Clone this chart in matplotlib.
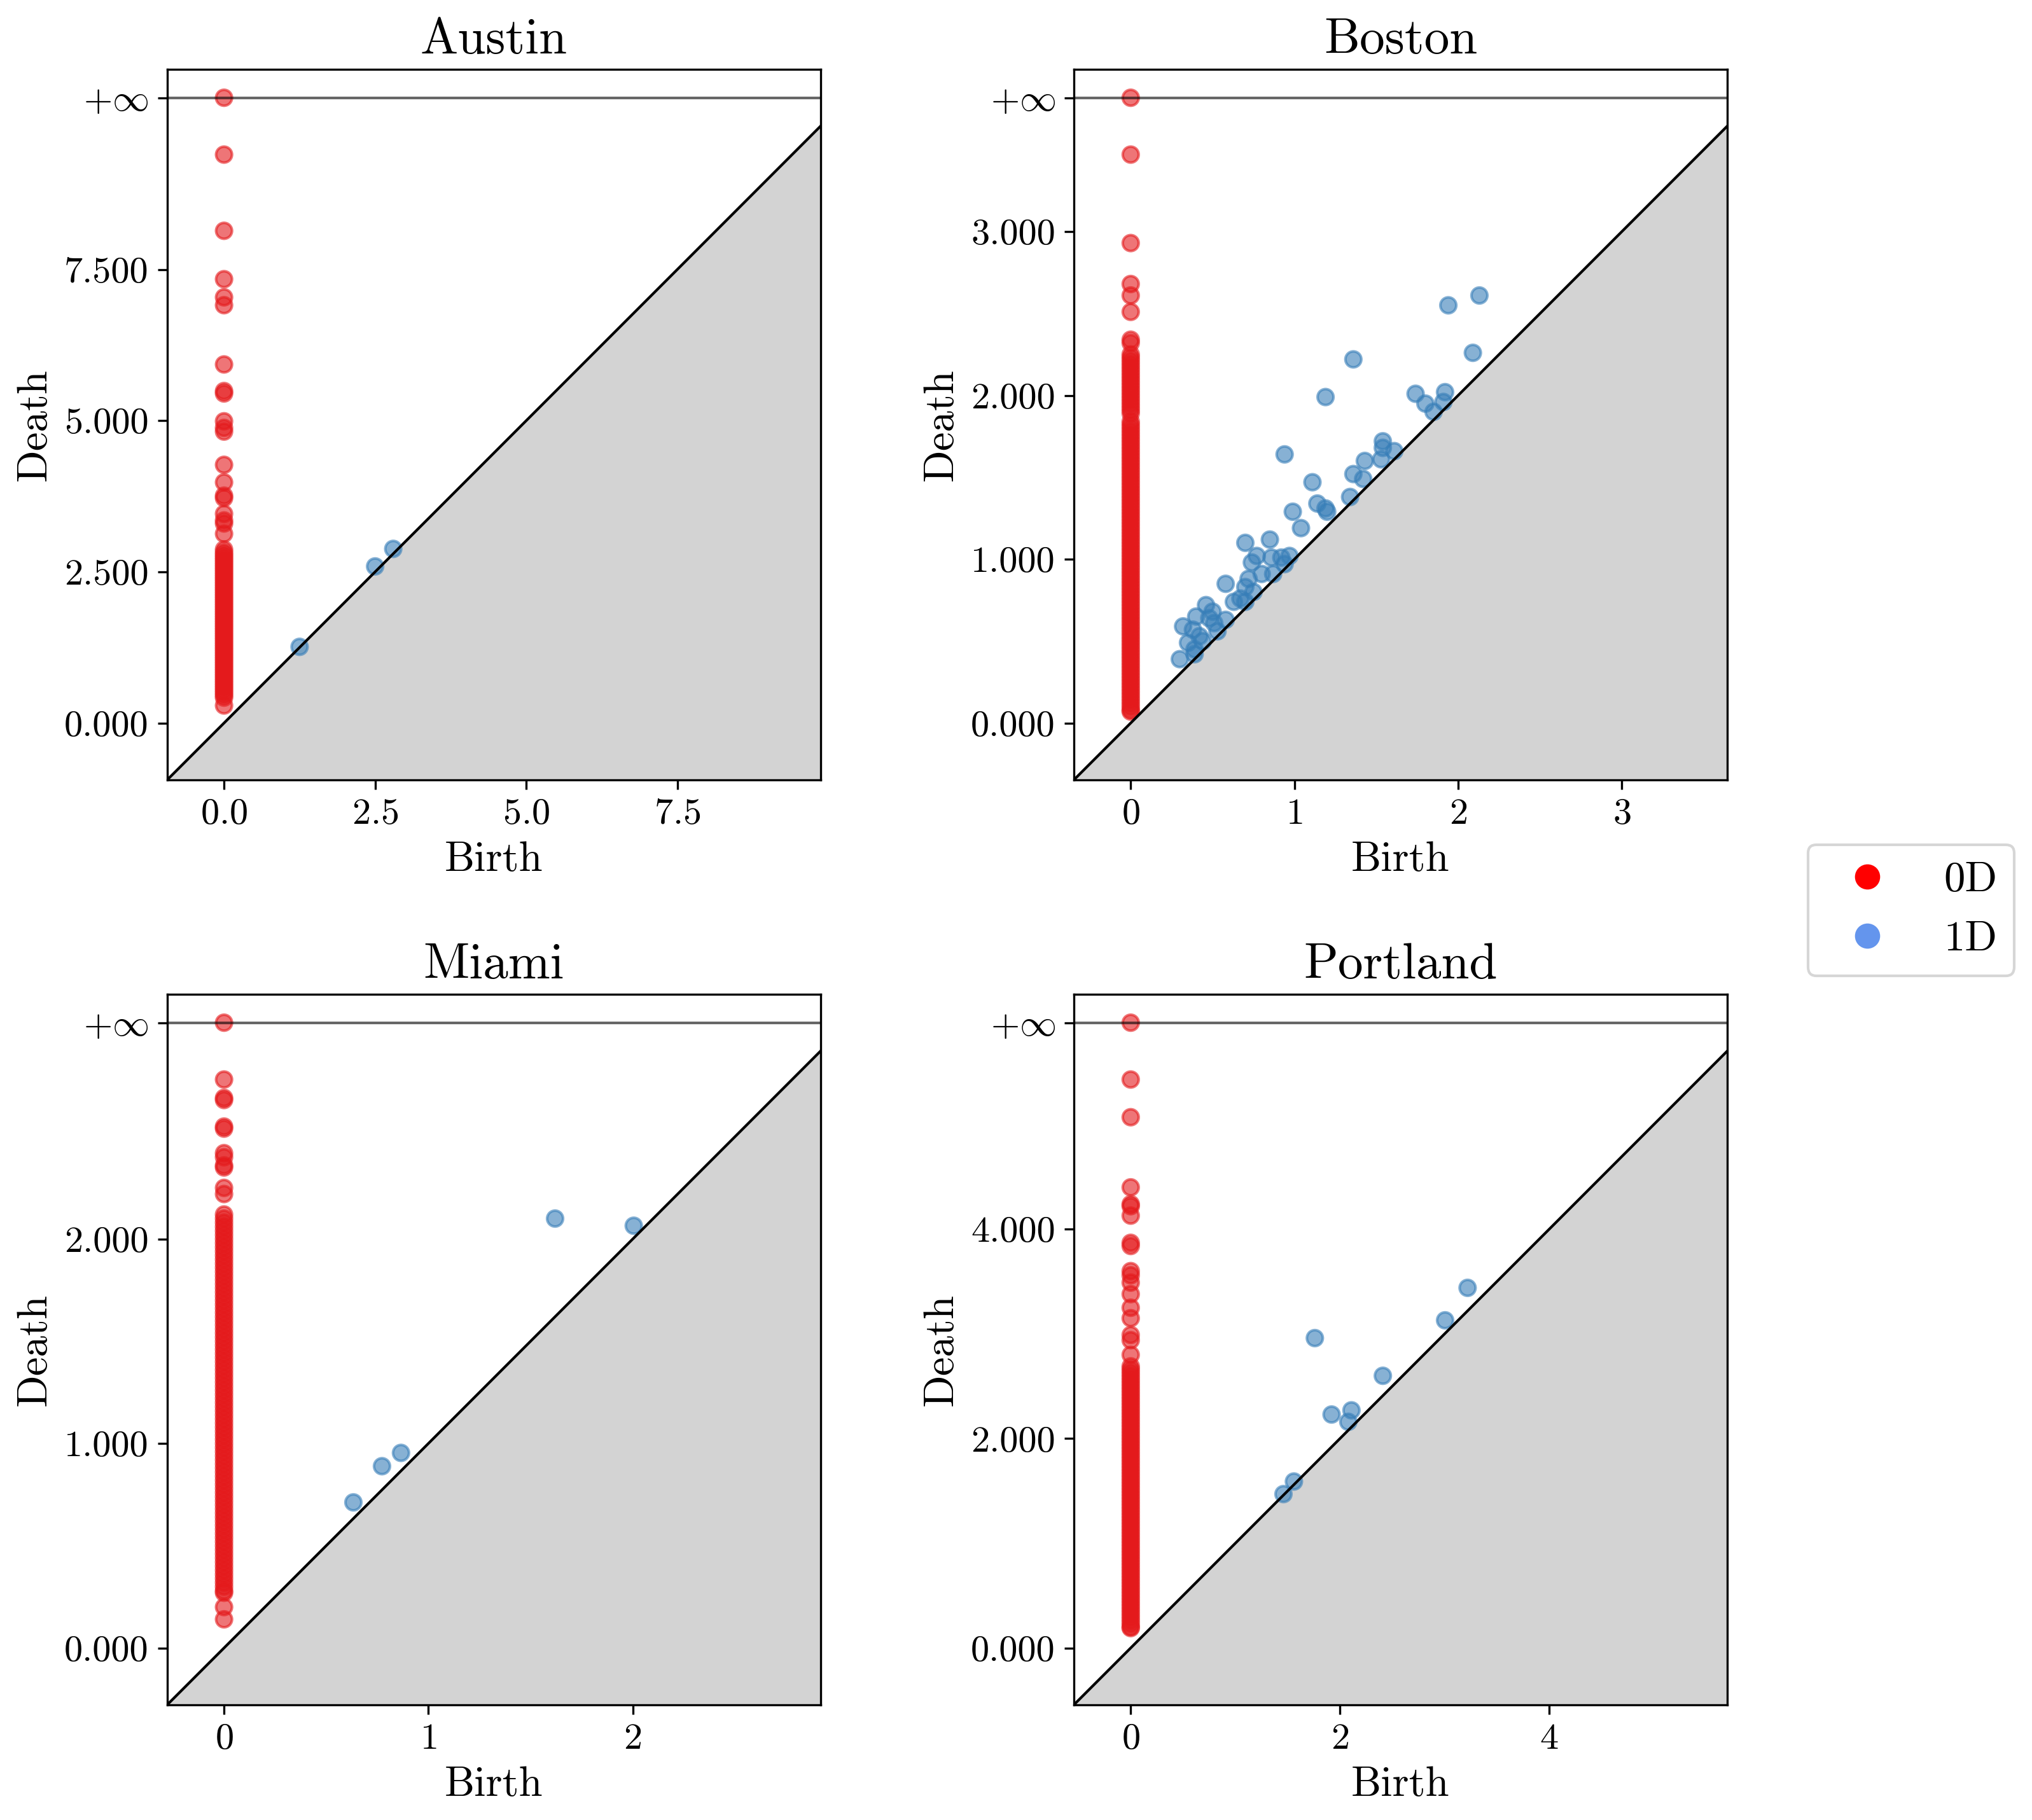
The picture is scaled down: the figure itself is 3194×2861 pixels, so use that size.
import numpy as np
import matplotlib
matplotlib.use("Agg")
import matplotlib.pyplot as plt
import matplotlib.patches as mpatches
from matplotlib.lines import Line2D

plt.rcParams['font.family'] = 'serif'
plt.rcParams['font.serif'] = ['cmr10']
plt.rcParams['mathtext.fontset'] = 'cm'
plt.rcParams['axes.formatter.use_mathtext'] = True
plt.rcParams['axes.unicode_minus'] = False

cities = ['Austin', 'Boston', 'Miami', 'Portland']

# 0D deaths (all births are 0), one extra infinite class per city
austin_h0 = [9.40, 8.14, 7.34, 7.04, 6.91, 5.93, 5.49, 5.45, 4.99, 4.88, 4.82, 4.27,
             3.98, 3.76, 3.72, 3.46, 3.35, 3.30, 3.13, 2.87,
             2.82, 2.78, 2.74, 2.70, 2.66, 2.62, 2.58, 2.54, 2.50, 2.46, 2.42, 2.38,
             2.34, 2.30, 2.26, 2.22, 2.18, 2.14, 2.10, 2.06, 2.02, 1.98, 1.94, 1.90,
             1.86, 1.82, 1.78, 1.74, 1.70, 1.66, 1.62, 1.58, 1.54, 1.50, 1.46, 1.42,
             1.38, 1.34, 1.30, 1.26, 1.22, 1.18, 1.14, 1.10, 1.06, 1.02, 0.98, 0.94,
             0.90, 0.86, 0.82, 0.78, 0.74, 0.70, 0.66, 0.62, 0.58, 0.54, 0.50, 0.46,
             0.42, 0.29]
boston_h0 = [3.47, 2.93, 2.68, 2.61, 2.51, 2.34, 2.32,
             2.25, 2.23, 2.21, 2.19, 2.17, 2.15, 2.13, 2.11, 2.09, 2.07, 2.05, 2.03,
             2.01, 1.99, 1.97, 1.95, 1.93, 1.91, 1.89,
             1.84, 1.82, 1.80, 1.78, 1.76, 1.74, 1.72, 1.70, 1.68, 1.66, 1.64, 1.62,
             1.60, 1.58, 1.56, 1.54, 1.52, 1.50, 1.48, 1.46, 1.44, 1.42, 1.40, 1.38,
             1.36, 1.34, 1.32, 1.30, 1.28, 1.26, 1.24, 1.22, 1.20, 1.18, 1.16, 1.14,
             1.12, 1.10, 1.08, 1.06, 1.04, 1.02, 1.00, 0.98, 0.96, 0.94, 0.92, 0.90,
             0.88, 0.86, 0.84, 0.82, 0.80, 0.78, 0.76, 0.74, 0.72, 0.70, 0.68, 0.66,
             0.64, 0.62, 0.60, 0.58, 0.56, 0.54, 0.52, 0.50, 0.48, 0.46, 0.44, 0.42,
             0.40, 0.38, 0.36, 0.34, 0.32, 0.30, 0.28, 0.26, 0.24, 0.22, 0.20, 0.18,
             0.16, 0.14, 0.12, 0.10, 0.08, 0.07]
miami_h0 = [2.78, 2.69, 2.68, 2.55, 2.54, 2.42, 2.40, 2.36, 2.35, 2.25, 2.22,
            2.12, 2.10, 2.08, 2.06, 2.04, 2.02, 2.00, 1.98, 1.96, 1.94, 1.92, 1.90,
            1.88, 1.86, 1.84, 1.82, 1.80, 1.78, 1.76, 1.74, 1.72, 1.70, 1.68, 1.66,
            1.64, 1.62, 1.60, 1.58, 1.56, 1.54, 1.52, 1.50, 1.48, 1.46, 1.44, 1.42,
            1.40, 1.38, 1.36, 1.34, 1.32, 1.30, 1.28, 1.26, 1.24, 1.22, 1.20, 1.18,
            1.16, 1.14, 1.12, 1.10, 1.08, 1.06, 1.04, 1.02, 1.00, 0.98, 0.96, 0.94,
            0.92, 0.90, 0.88, 0.86, 0.84, 0.82, 0.80, 0.78, 0.76, 0.74, 0.72, 0.70,
            0.68, 0.66, 0.64, 0.62, 0.60, 0.58, 0.56, 0.54, 0.52, 0.50, 0.48, 0.46,
            0.44, 0.42, 0.40, 0.38, 0.36, 0.34, 0.32, 0.30, 0.28, 0.27, 0.20, 0.14]
portland_h0 = [5.43, 5.07, 4.40, 4.24, 4.22, 4.13, 3.87, 3.84, 3.60, 3.56, 3.49, 3.38,
               3.25, 3.15, 2.99, 2.94, 2.80,
               2.69, 2.66, 2.63, 2.60, 2.57, 2.54, 2.51, 2.48, 2.45, 2.42, 2.39, 2.36,
               2.33, 2.30, 2.27, 2.24, 2.21, 2.18, 2.15, 2.12, 2.09, 2.06, 2.03, 2.00,
               1.97, 1.94, 1.91, 1.88, 1.85, 1.82, 1.79, 1.76, 1.73, 1.70, 1.67, 1.64,
               1.61, 1.58, 1.55, 1.52, 1.49, 1.46, 1.43, 1.40, 1.37, 1.34, 1.31, 1.28,
               1.25, 1.22, 1.19, 1.16, 1.13, 1.10, 1.07, 1.04, 1.01, 0.98, 0.95, 0.92,
               0.89, 0.86, 0.83, 0.80, 0.77, 0.74, 0.71, 0.68, 0.65, 0.62, 0.59, 0.56,
               0.53, 0.50, 0.47, 0.44, 0.41, 0.38, 0.35, 0.32, 0.29, 0.26, 0.23, 0.20,
               0.19]

# 1D (birth, death) pairs
austin_h1 = [(1.25, 1.26), (2.50, 2.59), (2.80, 2.88)]
boston_h1 = [(2.13, 2.61), (1.94, 2.55), (2.09, 2.26), (1.36, 2.22), (1.19, 1.99),
             (1.74, 2.01), (1.92, 2.02), (1.80, 1.95), (1.91, 1.96), (1.85, 1.90),
             (0.94, 1.64), (1.54, 1.72), (1.54, 1.68), (1.61, 1.66), (1.53, 1.61),
             (1.43, 1.60), (1.11, 1.47), (1.36, 1.52), (1.42, 1.49), (1.34, 1.38),
             (1.14, 1.34), (1.19, 1.31), (1.20, 1.29), (0.99, 1.29), (1.04, 1.19),
             (0.85, 1.12), (0.70, 1.10), (0.77, 1.02), (0.86, 1.01), (0.74, 0.98),
             (0.92, 1.01), (0.97, 1.02), (0.94, 0.97), (0.87, 0.91), (0.80, 0.91),
             (0.72, 0.88), (0.58, 0.85), (0.70, 0.83), (0.75, 0.80), (0.63, 0.74),
             (0.70, 0.74), (0.67, 0.76), (0.46, 0.72), (0.50, 0.68), (0.40, 0.65),
             (0.48, 0.64), (0.58, 0.63), (0.51, 0.61), (0.32, 0.59), (0.38, 0.57),
             (0.53, 0.56), (0.42, 0.53), (0.35, 0.49), (0.44, 0.50), (0.39, 0.45),
             (0.39, 0.42), (0.30, 0.39)]
miami_h1 = [(1.62, 2.10), (2.005, 2.065), (0.866, 0.954), (0.773, 0.889), (0.633, 0.712)]
portland_h1 = [(3.22, 3.44), (3.005, 3.13), (1.76, 2.96), (2.41, 2.60), (2.11, 2.27),
               (1.92, 2.23), (2.08, 2.16), (1.56, 1.59), (1.46, 1.47)]

h0_all = [austin_h0, boston_h0, miami_h0, portland_h0]
h1_all = [austin_h1, boston_h1, miami_h1, portland_h1]

xticks_all = [[0, 2.5, 5, 7.5], [0, 1, 2, 3], [0, 1, 2], [0, 2, 4]]
yticks_all = [[0, 2.5, 5, 7.5], [0, 1, 2, 3], [0, 1, 2], [0, 2, 4]]

set1 = plt.cm.Set1.colors
alpha = 0.6

fig = plt.figure(figsize=(3194 / 300, 2861 / 300), dpi=300)
positions = [(0.0823, 0.5715), (0.5285, 0.5715), (0.0823, 0.0633), (0.5285, 0.0633)]
w, h = 0.3215, 0.3904

for i, city in enumerate(cities):
    ax = fig.add_axes([positions[i][0], positions[i][1], w, h])
    h0 = np.array(h0_all[i])
    h1 = np.array(h1_all[i])

    births = np.concatenate([np.zeros(len(h0)), h1[:, 0]])
    deaths = np.concatenate([h0, h1[:, 1]])
    min_birth = births.min()
    max_death = max(deaths.max(), births.max())
    delta = (max_death - min_birth) * 0.1
    infinity = max_death + delta
    axis_end = max_death + delta / 2
    axis_start = min_birth - delta

    # grey block under the diagonal
    ax.add_patch(mpatches.Polygon([[axis_start, axis_start], [axis_end, axis_start],
                                   [axis_end, axis_end]], fill=True, color='lightgrey'))
    ax.plot([axis_start, axis_end], [axis_start, axis_end], linewidth=1.0, color='k')

    x = list(h1[:, 0]) + [0.0] * (len(h0) + 1)
    y = list(h1[:, 1]) + list(h0) + [infinity]
    c = [set1[1]] * len(h1) + [set1[0]] * (len(h0) + 1)
    ax.scatter(x, y, alpha=alpha, color=c)

    # infinity line
    ax.plot([axis_start, axis_end], [infinity, infinity], linewidth=1.0, color='k', alpha=alpha)

    yt = list(yticks_all[i]) + [infinity]
    ytl = ['%.3f' % e for e in yt]
    ytl[-1] = r'$+\infty$'
    ax.set_yticks(yt)
    ax.set_yticklabels(ytl)
    ax.set_xticks(xticks_all[i])
    ax.tick_params(labelsize=14)

    ax.set_xlabel('Birth', fontsize=16)
    ax.set_ylabel('Death', fontsize=16)
    ax.set_title(city, fontsize=19)
    ax.axis([axis_start, axis_end, axis_start, infinity + delta / 2])

handles = [Line2D([0], [0], marker='o', linestyle='none', color='red', markersize=8.5, label='0D'),
           Line2D([0], [0], marker='o', linestyle='none', color='cornflowerblue', markersize=8.5, label='1D')]
fig.legend(handles=handles, loc='center left', bbox_to_anchor=(2842 / 3194, 0.5),
           borderaxespad=0, fontsize=16)

fig.savefig('out.png', dpi=300)
